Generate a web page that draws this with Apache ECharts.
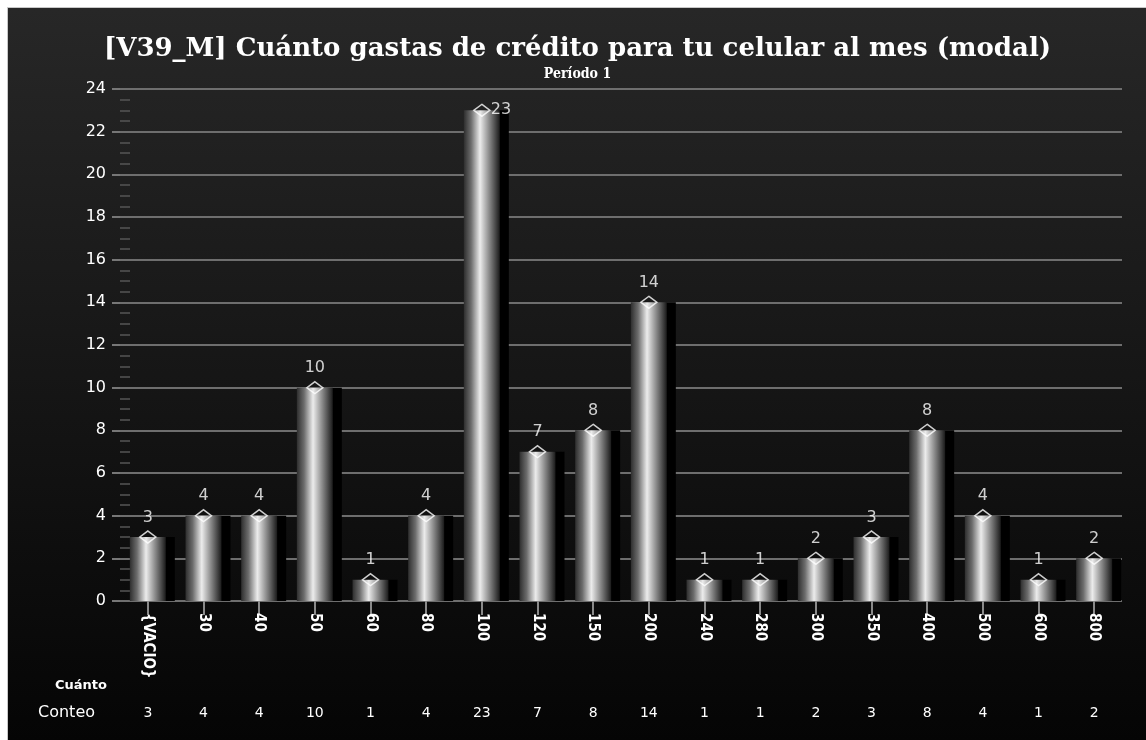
<!DOCTYPE html>
<html>
<head>
<meta charset="utf-8">
<script src="https://cdn.jsdelivr.net/npm/echarts@6/dist/echarts.min.js"></script>
<style>
    html, body { margin: 0; padding: 0; background: #fff; }
    #chart {
        position: absolute; left: 7px; top: 7px; width: 1139px; height: 733px;
        border-left: 1px solid #c8c8c8; border-top: 1px solid #c8c8c8;
        background: linear-gradient(to bottom, #272727 0%, #161616 50%, #050505 100%);
    }
</style>
</head>
<body>
<div id="chart"></div>
<script>
    // categorias (Cuánto) y conteos
    let categories = ['{VACIO}', '30', '40', '50', '60', '80', '100', '120', '150', '200', '240', '280', '300', '350', '400', '500', '600', '800']
    let counts = [3, 4, 4, 10, 1, 4, 23, 7, 8, 14, 1, 1, 2, 3, 8, 4, 1, 2]
    let yTicks = {min: 0, max: 24, interval: 2}

    let titleText = '[V39_M] Cuánto gastas de crédito para tu celular al mes (modal)'
    let subText = 'Período 1'

    let chart = echarts.init(document.getElementById('chart'))

    let barGradient = new echarts.graphic.LinearGradient(0, 0, 1, 0, [
        {offset: 0, color: '#2e2e2e'},
        {offset: 0.2, color: '#6c6c6c'},
        {offset: 0.45, color: '#ececec'},
        {offset: 0.7, color: '#8c8c8c'},
        {offset: 1, color: '#1a1a1a'}
    ])

    let option = {
        backgroundColor: 'transparent',
        animation: false,
        title: [
            {
                text: titleText,
                left: 'center',
                top: 23,
                textStyle: {
                    color: '#fff',
                    fontFamily: 'DejaVu Serif',
                    fontWeight: 'bold',
                    fontSize: 26
                }
            },
            {
                text: subText,
                left: 'center',
                top: 54,
                textStyle: {
                    color: '#fff',
                    fontFamily: 'DejaVu Serif Condensed, DejaVu Serif',
                    fontWeight: 'bold',
                    fontSize: 14
                }
            }
        ],
        grid: {
            left: 112,
            right: 25,
            top: 81,
            bottom: 140
        },
        xAxis: [
            {
                type: 'category',
                data: categories,
                axisLine: {show: false},
                axisTick: {
                    show: true,
                    alignWithLabel: true,
                    length: 14,
                    lineStyle: {color: '#8a8a8a', width: 2}
                },
                axisLabel: {
                    rotate: -90,
                    margin: 12,
                    color: '#fff',
                    fontFamily: 'DejaVu Sans Condensed, DejaVu Sans',
                    fontWeight: 'bold',
                    fontSize: 15
                }
            },
            {
                type: 'category',
                position: 'bottom',
                offset: 97,
                data: counts.map(String),
                axisLine: {show: false},
                axisTick: {show: false},
                axisLabel: {
                    margin: 8,
                    color: '#fff',
                    fontFamily: 'DejaVu Sans',
                    fontSize: 14
                }
            }
        ],
        yAxis: [
            {
                type: 'value',
                min: yTicks.min,
                max: yTicks.max,
                interval: yTicks.interval,
                axisLine: {show: false},
                axisTick: {
                    show: true,
                    length: 8,
                    lineStyle: {color: '#777', width: 2}
                },
                axisLabel: {
                    margin: 14,
                    color: '#fff',
                    fontFamily: 'DejaVu Sans',
                    fontSize: 16
                },
                splitLine: {
                    lineStyle: {color: '#6e6e6e', width: 2}
                }
            },
            {
                // solo para las marcas menores
                type: 'value',
                position: 'left',
                min: yTicks.min,
                max: yTicks.max,
                interval: yTicks.interval,
                axisLine: {show: false},
                axisTick: {show: false, inside: true},
                axisLabel: {show: false},
                splitLine: {show: false},
                minorTick: {
                    show: true,
                    splitNumber: 4,
                    length: 10,
                    lineStyle: {color: '#555', width: 1.5}
                }
            }
        ],
        graphic: [
            {
                type: 'text',
                left: 47,
                top: 671,
                style: {
                    text: 'Cuánto',
                    fill: '#fff',
                    font: 'bold 13px "DejaVu Sans"'
                }
            },
            {
                type: 'text',
                left: 30,
                top: 697,
                style: {
                    text: 'Conteo',
                    fill: '#fff',
                    font: '16px "DejaVu Sans"'
                }
            }
        ],
        series: [
            {
                name: 'Conteo',
                type: 'bar',
                barWidth: 36,
                data: counts,
                itemStyle: {
                    color: barGradient,
                    shadowColor: '#000',
                    shadowOffsetX: 9,
                    shadowBlur: 0
                },
                z: 3
            },
            {
                name: 'marcas',
                type: 'scatter',
                symbol: 'diamond',
                symbolSize: [16, 12],
                data: counts.map(v => ({
                    value: v,
                    label: v === Math.max(...counts) ? {position: 'right', distance: 0} : {}
                })),
                itemStyle: {
                    color: 'rgba(0,0,0,0)',
                    borderColor: '#fff',
                    borderWidth: 1.5
                },
                label: {
                    show: true,
                    position: 'top',
                    distance: 5,
                    color: '#fff',
                    fontFamily: 'DejaVu Sans',
                    fontSize: 16
                },
                z: 5
            }
        ]
    }

    chart.setOption(option)
</script>
</body>
</html>
